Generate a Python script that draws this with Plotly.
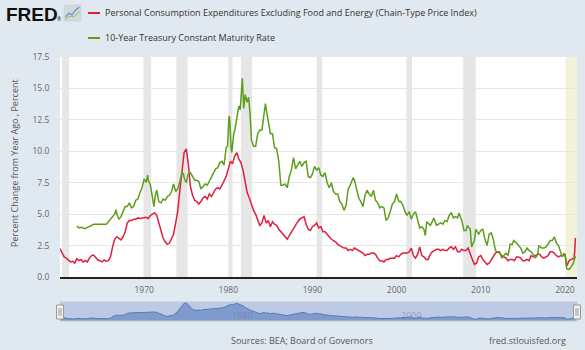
import plotly.graph_objects as go

# ---------------- DATA ----------------
pce_dates = [
 "1960-01","1960-04","1960-07","1960-10","1961-01","1961-04","1961-07","1961-10",
 "1962-01","1962-04","1962-07","1962-10","1963-01","1963-04","1963-07","1963-10",
 "1964-01","1964-04","1964-07","1964-10","1965-01","1965-04","1965-07","1965-10",
 "1966-01","1966-04","1966-07","1966-10","1967-01","1967-04","1967-07","1967-10",
 "1968-01","1968-04","1968-07","1968-10","1969-01","1969-04","1969-07","1969-10",
 "1970-01","1970-04","1970-07","1970-10","1971-01","1971-04","1971-07","1971-10",
 "1972-01","1972-04","1972-07","1972-10","1973-01","1973-04","1973-07","1973-10",
 "1974-01","1974-04","1974-07","1974-10","1975-01","1975-04","1975-07","1975-10",
 "1976-01","1976-04","1976-07","1976-10","1977-01","1977-04","1977-07","1977-10",
 "1978-01","1978-04","1978-07","1978-10","1979-01","1979-04","1979-07","1979-10",
 "1980-01","1980-04","1980-07","1980-10","1981-01","1981-04","1981-07","1981-10",
 "1982-01","1982-04","1982-07","1982-10","1983-01","1983-04","1983-07","1983-10",
 "1984-01","1984-04","1984-07","1984-10","1985-01","1985-04","1985-07","1985-10",
 "1986-01","1986-04","1986-07","1986-10","1987-01","1987-04","1987-07","1987-10",
 "1988-01","1988-04","1988-07","1988-10","1989-01","1989-04","1989-07","1989-10",
 "1990-01","1990-04","1990-07","1990-10","1991-01","1991-04","1991-07","1991-10",
 "1992-01","1992-04","1992-07","1992-10","1993-01","1993-04","1993-07","1993-10",
 "1994-01","1994-04","1994-07","1994-10","1995-01","1995-04","1995-07","1995-10",
 "1996-01","1996-04","1996-07","1996-10","1997-01","1997-04","1997-07","1997-10",
 "1998-01","1998-04","1998-07","1998-10","1999-01","1999-04","1999-07","1999-10",
 "2000-01","2000-04","2000-07","2000-10","2001-01","2001-04","2001-07","2001-10",
 "2002-01","2002-04","2002-07","2002-10","2003-01","2003-04","2003-07","2003-10",
 "2004-01","2004-04","2004-07","2004-10","2005-01","2005-04","2005-07","2005-10",
 "2006-01","2006-04","2006-07","2006-10","2007-01","2007-04","2007-07","2007-10",
 "2008-01","2008-04","2008-07","2008-10","2009-01","2009-04","2009-07","2009-10",
 "2010-01","2010-04","2010-07","2010-10","2011-01","2011-04","2011-07","2011-10",
 "2012-01","2012-04","2012-07","2012-10","2013-01","2013-04","2013-07","2013-10",
 "2014-01","2014-04","2014-07","2014-10","2015-01","2015-04","2015-07","2015-10",
 "2016-01","2016-04","2016-07","2016-10","2017-01","2017-04","2017-07","2017-10",
 "2018-01","2018-04","2018-07","2018-10","2019-01","2019-04","2019-07","2019-10",
 "2020-01","2020-04","2020-07","2020-10","2021-01","2021-02","2021-03","2021-04",
]
pce_values = [
 2.25,1.9,1.6,1.5,1.35,1.2,1.25,1.1,
 1.45,1.3,1.4,1.2,1.3,1.2,1.5,1.7,
 1.75,1.55,1.35,1.3,1.2,1.35,1.25,1.3,
 1.6,2.4,3.0,3.2,3.1,2.95,3.2,3.6,
 4.3,4.5,4.5,4.6,4.6,4.7,4.65,4.7,
 4.7,4.75,4.65,4.9,5.0,5.1,4.9,4.3,
 3.7,3.1,2.8,2.6,2.7,3.1,3.4,4.3,
 5.3,6.9,8.5,9.9,10.2,9.0,7.2,6.5,
 6.1,6.0,5.8,6.0,6.3,6.4,6.2,6.6,
 6.4,6.7,7.0,7.1,7.0,7.3,7.6,8.0,
 8.6,9.2,9.0,9.6,9.9,9.4,9.1,8.5,
 7.6,6.7,6.3,5.8,5.3,5.0,4.5,4.1,
 4.3,4.9,4.3,4.5,4.0,4.4,4.2,4.1,
 3.8,3.6,3.4,3.2,3.0,3.3,3.6,3.9,
 4.1,4.4,4.6,4.7,4.8,4.2,3.8,3.7,
 4.0,4.1,4.3,3.9,4.0,3.6,3.6,3.4,
 3.2,3.0,2.9,2.8,2.6,2.5,2.4,2.3,
 2.3,2.1,2.2,2.1,2.3,2.2,2.1,2.0,
 1.9,1.7,1.8,1.8,1.9,1.9,1.8,1.5,
 1.3,1.3,1.2,1.4,1.4,1.5,1.5,1.5,
 1.7,1.6,1.8,1.9,1.9,1.9,2.0,2.3,
 1.7,1.5,1.8,2.4,1.7,1.6,1.4,1.4,
 1.8,2.0,2.1,2.2,2.2,2.1,2.2,2.1,
 2.1,2.3,2.4,2.2,2.4,2.0,2.0,2.2,
 2.1,2.1,2.3,1.8,1.4,1.0,1.1,1.6,
 1.7,1.4,1.2,1.0,1.1,1.4,1.7,1.9,
 2.0,1.9,1.7,1.6,1.5,1.3,1.4,1.4,
 1.3,1.6,1.6,1.5,1.3,1.3,1.4,1.3,
 1.7,1.6,1.7,1.8,1.8,1.6,1.5,1.6,
 1.7,2.0,2.0,1.9,1.7,1.6,1.7,1.7,
 1.8,0.9,1.3,1.4,1.5,1.5,2.0,3.1,
]

gs10_dates = [
 "1962-01","1962-04","1962-07","1962-10","1963-01","1963-04","1963-07","1963-10",
 "1964-01","1964-04","1964-07","1964-10","1965-01","1965-04","1965-07","1965-10",
 "1966-01","1966-04","1966-07","1966-09","1966-10","1967-01","1967-04","1967-07","1967-10",
 "1968-01","1968-04","1968-07","1968-10","1969-01","1969-04","1969-07","1969-10",
 "1970-01","1970-04","1970-06","1970-07","1970-10","1971-01","1971-03","1971-05","1971-07","1971-10",
 "1972-01","1972-04","1972-07","1972-10","1973-01","1973-04","1973-07","1973-10",
 "1974-01","1974-04","1974-07","1974-09","1974-10","1975-01","1975-04","1975-07","1975-10",
 "1976-01","1976-04","1976-07","1976-10","1977-01","1977-04","1977-07","1977-10",
 "1978-01","1978-04","1978-07","1978-10","1979-01","1979-04","1979-07","1979-10","1979-12",
 "1980-02","1980-03","1980-05","1980-06","1980-09","1980-10","1981-01","1981-04","1981-06",
 "1981-09","1981-11","1982-01","1982-04","1982-06","1982-08","1982-10",
 "1983-01","1983-04","1983-07","1983-10","1984-01","1984-04","1984-06","1984-07","1984-10",
 "1985-01","1985-04","1985-07","1985-10","1986-01","1986-04","1986-07","1986-10",
 "1987-01","1987-04","1987-07","1987-10","1988-01","1988-04","1988-07","1988-10",
 "1989-01","1989-04","1989-07","1989-10","1990-01","1990-04","1990-07","1990-10",
 "1991-01","1991-04","1991-07","1991-10","1992-01","1992-04","1992-07","1992-10",
 "1993-01","1993-04","1993-07","1993-10","1994-01","1994-04","1994-07","1994-11",
 "1995-01","1995-04","1995-07","1995-10","1995-12","1996-01","1996-04","1996-07","1996-10",
 "1997-01","1997-04","1997-07","1997-10","1998-01","1998-04","1998-07","1998-10",
 "1999-01","1999-04","1999-07","1999-10","2000-01","2000-04","2000-07","2000-10",
 "2001-01","2001-04","2001-07","2001-10","2002-01","2002-04","2002-07","2002-10",
 "2003-01","2003-04","2003-06","2003-08","2003-10","2004-01","2004-04","2004-06","2004-10",
 "2005-01","2005-04","2005-07","2005-10","2006-01","2006-04","2006-07","2006-10",
 "2007-01","2007-04","2007-06","2007-10","2008-01","2008-04","2008-06","2008-10","2008-12",
 "2009-01","2009-04","2009-06","2009-10","2010-01","2010-04","2010-07","2010-10",
 "2011-01","2011-04","2011-07","2011-10","2012-01","2012-04","2012-07","2012-10",
 "2013-01","2013-04","2013-07","2013-10","2013-12","2014-04","2014-07","2014-10",
 "2015-01","2015-04","2015-07","2015-10","2016-01","2016-04","2016-07","2016-10","2016-12",
 "2017-04","2017-07","2017-10","2018-01","2018-04","2018-07","2018-10",
 "2019-01","2019-04","2019-07","2019-09","2019-12","2020-02","2020-03","2020-04",
 "2020-07","2020-10","2021-01","2021-02","2021-03","2021-04",
]
gs10_values = [
 4.05,3.9,3.95,3.9,3.85,3.95,4.0,4.1,
 4.2,4.2,4.2,4.2,4.2,4.2,4.2,4.4,
 4.6,4.75,5.0,5.35,5.0,4.6,4.8,5.2,5.6,
 5.6,5.9,5.5,5.6,6.1,6.2,6.7,7.1,
 7.8,7.5,8.1,7.7,7.3,6.2,5.6,6.5,6.9,6.0,
 5.9,6.2,6.1,6.4,6.5,6.8,7.4,6.8,
 7.0,7.6,8.3,8.2,7.9,7.5,8.2,8.3,8.0,
 7.7,7.7,7.6,7.0,7.2,7.4,7.3,7.6,
 7.9,8.2,8.6,8.7,9.1,9.2,8.9,10.3,10.4,
 12.8,12.6,10.2,9.9,11.5,11.6,12.6,13.6,13.3,
 15.8,13.4,14.5,13.9,14.3,13.0,10.9,
 10.4,10.4,11.4,11.7,11.7,12.8,13.8,13.4,12.3,
 11.4,11.4,10.3,10.2,9.2,7.3,7.3,7.4,
 7.1,8.0,8.5,9.5,8.6,8.9,9.2,8.8,
 9.1,9.2,8.0,7.9,8.2,8.8,8.5,8.7,
 8.1,8.0,8.3,7.5,7.1,7.5,6.8,6.6,
 6.6,6.0,5.8,5.3,5.7,7.0,7.3,7.9,
 7.7,7.0,6.3,6.0,5.7,5.6,6.5,6.9,6.6,
 6.4,6.9,6.1,5.9,5.5,5.6,5.5,4.5,
 4.7,5.2,5.8,6.0,6.6,6.0,6.0,5.7,
 5.2,4.9,5.2,4.6,5.0,5.2,4.6,3.9,
 4.0,3.8,3.3,4.4,4.3,4.1,4.4,4.7,4.1,
 4.2,4.3,4.2,4.5,4.4,4.9,5.1,4.7,
 4.8,4.7,5.1,4.5,3.7,3.7,4.1,3.8,2.4,
 2.5,2.9,3.8,3.4,3.7,3.8,3.0,2.5,
 3.4,3.5,3.0,2.1,2.0,2.0,1.5,1.7,
 1.9,1.7,2.6,2.6,2.9,2.7,2.5,2.3,
 1.9,2.0,2.3,2.1,2.0,1.8,1.5,1.8,2.5,
 2.3,2.3,2.4,2.6,2.9,2.9,3.2,
 2.7,2.5,2.0,1.6,1.9,1.5,0.8,0.65,
 0.6,0.8,1.1,1.3,1.6,1.65,
]

recession_starts = ["1960-04-01","1969-12-01","1973-11-01","1980-01-01","1981-07-01",
                    "1990-07-01","2001-03-01","2007-12-01"]
recession_ends   = ["1961-02-01","1970-11-01","1975-03-01","1980-07-01","1982-11-01",
                    "1991-03-01","2001-11-01","2009-06-01"]
latest_recession_start = "2020-02-01"

y_tick_vals = [0, 2.5, 5, 7.5, 10, 12.5, 15, 17.5]
y_tick_text = ["0.0", "2.5", "5.0", "7.5", "10.0", "12.5", "15.0", "17.5"]
x_tick_vals = ["1970-01-01", "1980-01-01", "1990-01-01", "2000-01-01", "2010-01-01", "2020-01-01"]
x_tick_text = ["1970", "1980", "1990", "2000", "2010", "2020"]
nav_label_vals = ["1980-01-01", "2000-01-01"]
nav_label_text = ["1980", "2000"]

x_range = ["1960-01-01", "2021-06-10"]

series_names = ["Personal Consumption Expenditures Excluding Food and Energy (Chain-Type Price Index)",
                "10-Year Treasury Constant Maturity Rate"]

# ---------------- STYLE ----------------
RED = "#de1f3d"
GREEN = "#5d9e1c"
BG = "#e1e9f0"
FONT = "Open Sans"
W, H = 585, 350
ML, MR, MT, MB = 60, 8, 57, 29
PW, PH = W - ML - MR, H - MT - MB

def px(x):
    return (x - ML) / PW

def py(y):
    return (H - MB - y) / PH

fig = go.Figure()

fig.add_trace(go.Scatter(x=pce_dates, y=pce_values, mode="lines", name=series_names[0],
                         line=dict(color=RED, width=1.5), xaxis="x", yaxis="y",
                         showlegend=False, hoverinfo="skip"))
fig.add_trace(go.Scatter(x=gs10_dates, y=gs10_values, mode="lines", name=series_names[1],
                         line=dict(color=GREEN, width=1.5), xaxis="x", yaxis="y",
                         showlegend=False, hoverinfo="skip"))
# navigator series
fig.add_trace(go.Scatter(x=pce_dates, y=pce_values, mode="lines", fill="tozeroy",
                         line=dict(color="#5a79b6", width=1), fillcolor="#7f9acc",
                         xaxis="x2", yaxis="y2", showlegend=False, hoverinfo="skip"))

shapes = []
for s, e in zip(recession_starts, recession_ends):
    shapes.append(dict(type="rect", xref="x", yref="y domain", x0=s, x1=e, y0=0, y1=1,
                       fillcolor="#e6e6e6", line=dict(width=0), layer="below"))
shapes.append(dict(type="rect", xref="x", yref="y domain", x0=latest_recession_start,
                   x1=x_range[1], y0=0, y1=1, fillcolor="#f2f1da", line=dict(width=0), layer="below"))
# navigator mask + outline
shapes.append(dict(type="rect", xref="x2 domain", yref="y2 domain", x0=0, x1=1, y0=0, y1=1,
                   fillcolor="#bccbe3", line=dict(width=0), layer="below"))
shapes.append(dict(type="rect", xref="x2 domain", yref="y2 domain", x0=0, x1=1, y0=0, y1=1,
                   fillcolor="rgba(0,0,0,0)", line=dict(width=1, color="#c4c9d1"), layer="above"))
# navigator handles
for hx in (60, 577):
    shapes.append(dict(type="rect", xref="paper", yref="paper", x0=px(hx - 3.5), x1=px(hx + 3.5),
                       y0=py(319), y1=py(305), fillcolor="#f2f2f2", line=dict(width=1, color="#999999"),
                       layer="above"))
    for dx in (-1, 1):
        shapes.append(dict(type="line", xref="paper", yref="paper", x0=px(hx + dx), x1=px(hx + dx),
                           y0=py(316), y1=py(308), line=dict(width=1, color="#999999"), layer="above"))
# legend sample lines
for yy, col in ((13, RED), (38, GREEN)):
    shapes.append(dict(type="line", xref="paper", yref="paper", x0=px(88), x1=px(100),
                       y0=py(yy), y1=py(yy), line=dict(width=2, color=col)))
# FRED icon
shapes.append(dict(type="rect", xref="paper", yref="paper", x0=px(64), x1=px(81), y0=py(21), y1=py(5),
                   fillcolor="#d3d9e1", line=dict(width=0.5, color="#c2c9d2")))
shapes.append(dict(type="path", xref="paper", yref="paper",
                   path="M {} {} L {} {} L {} {} L {} {} L {} {}".format(
                       px(65.5), py(17), px(69), py(13), px(72), py(15), px(75.5), py(10), px(79.5), py(7)),
                   line=dict(width=1.2, color="#6b8fc5")))
shapes.append(dict(type="path", xref="paper", yref="paper",
                   path="M {} {} L {} {} L {} {} L {} {}".format(
                       px(65.5), py(19), px(70), py(16), px(74), py(17), px(79.5), py(11)),
                   line=dict(width=1, color="#8fbf5a")))

annotations = []
annotations.append(dict(text="<b>FRED</b>", xref="paper", yref="paper", x=px(4), y=py(14),
                        xanchor="left", yanchor="middle", showarrow=False,
                        font=dict(family="Liberation Sans", size=19, color="#111111")))
annotations.append(dict(text="®", xref="paper", yref="paper", x=px(55), y=py(19),
                        xanchor="left", yanchor="middle", showarrow=False,
                        font=dict(family=FONT, size=5, color="#111111")))
for yy, name in ((13, series_names[0]), (38, series_names[1])):
    annotations.append(dict(text=name, xref="paper", yref="paper", x=px(103), y=py(yy),
                            xanchor="left", yanchor="middle", showarrow=False,
                            font=dict(family=FONT, size=9, color="#333333")))
for v, t in zip(nav_label_vals, nav_label_text):
    annotations.append(dict(text=t, xref="x2", yref="paper", x=v, y=py(315), xshift=2,
                            xanchor="left", yanchor="middle", showarrow=False,
                            font=dict(family=FONT, size=9, color="rgba(110,120,140,0.55)")))
annotations.append(dict(text="Sources: BEA; Board of Governors", xref="paper", yref="paper",
                        x=px(302), y=py(340), xanchor="center", yanchor="middle", showarrow=False,
                        font=dict(family=FONT, size=9, color="#555555")))
annotations.append(dict(text="fred.stlouisfed.org", xref="paper", yref="paper",
                        x=px(568), y=py(340), xanchor="right", yanchor="middle", showarrow=False,
                        font=dict(family=FONT, size=9, color="#555555")))
annotations.append(dict(text="Percent Change from Year Ago , Percent", xref="paper", yref="paper",
                        x=px(14), y=py(163), xanchor="center", yanchor="middle", textangle=-90,
                        showarrow=False, font=dict(family=FONT, size=9, color="#555555")))

fig.update_layout(
    width=W, height=H,
    margin=dict(l=ML, r=MR, t=MT, b=MB, pad=0),
    paper_bgcolor=BG, plot_bgcolor="white",
    font=dict(family=FONT, size=9, color="#666666"),
    showlegend=False,
    shapes=shapes, annotations=annotations,
    xaxis=dict(domain=[0, 1], anchor="y", type="date", range=x_range,
               tickvals=x_tick_vals, ticktext=x_tick_text, showgrid=False, zeroline=False,
               showline=True, linecolor="#222222", linewidth=2,
               ticks="outside", ticklen=4, tickcolor="rgba(0,0,0,0)",
               tickfont=dict(family=FONT, size=8.5, color="#666666")),
    yaxis=dict(domain=[py(277), 1], anchor="x", range=[0, 17.5],
               tickvals=y_tick_vals, ticktext=y_tick_text, showgrid=True, gridcolor="#e6e6e6",
               gridwidth=1, zeroline=False, showline=False,
               ticks="outside", ticklen=8, tickcolor="rgba(0,0,0,0)",
               tickfont=dict(family=FONT, size=8.5, color="#666666")),
    xaxis2=dict(domain=[0, 1], anchor="y2", type="date", range=x_range, showticklabels=False,
                showgrid=False, zeroline=False, showline=False, ticks=""),
    yaxis2=dict(domain=[0, py(302)], anchor="x2", range=[0, 10.6], showticklabels=False,
                showgrid=False, zeroline=False, showline=False, ticks=""),
)

fig.write_html("out.html")
